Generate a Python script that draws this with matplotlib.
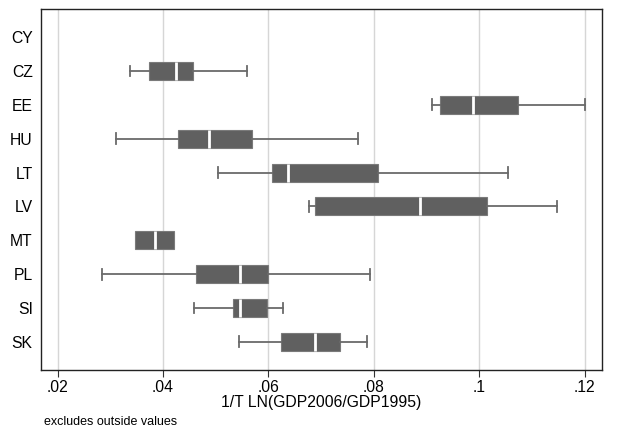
import matplotlib
matplotlib.use("Agg")
import matplotlib.pyplot as plt

plt.rcParams['font.family'] = ['Liberation Sans', 'DejaVu Sans']

countries = ["CY", "CZ", "EE", "HU", "LT", "LV", "MT", "PL", "SI", "SK"]
whisker_lo = [None, 0.0337, 0.0911, 0.0311, 0.0505, 0.0677, 0.0347, 0.0284, 0.0459, 0.0545]
q1         = [None, 0.0373, 0.0926, 0.0428, 0.0607, 0.0688, 0.0347, 0.0463, 0.0533, 0.0624]
median     = [None, 0.0424, 0.0987, 0.0488, 0.0638, 0.0888, 0.0384, 0.0547, 0.0547, 0.0689]
q3         = [None, 0.0457, 0.1074, 0.0568, 0.0808, 0.1015, 0.0420, 0.0600, 0.0597, 0.0736]
whisker_hi = [None, 0.0559, 0.1201, 0.0770, 0.1054, 0.1147, 0.0420, 0.0792, 0.0627, 0.0787]
xticks = [0.02, 0.04, 0.06, 0.08, 0.10, 0.12]
xtick_labels = [".02", ".04", ".06", ".08", ".1", ".12"]

fig = plt.figure(figsize=(6.19, 4.32), dpi=100)
ax = fig.add_axes([41 / 619, 1 - 370 / 432, (601.7 - 41) / 619, (370 - 9) / 432])

stats, positions = [], []
for i, c in enumerate(countries):
    if median[i] is None:
        continue
    stats.append(dict(whislo=whisker_lo[i], q1=q1[i], med=median[i],
                      q3=q3[i], whishi=whisker_hi[i], fliers=[]))
    positions.append(i + 1)

box_col = "#606060"
art = ax.bxp(stats, positions=positions, orientation="horizontal",
             widths=0.53, patch_artist=True, showfliers=False,
             boxprops=dict(facecolor=box_col, edgecolor="#7a7a7a", linewidth=0.8),
             medianprops=dict(color="white", linewidth=2),
             whiskerprops=dict(color="#6a6a6a", linewidth=1.3),
             capprops=dict(color="#6a6a6a", linewidth=1.3),
             capwidths=0.32)

# hide whiskers and caps that collapse onto the box edges
for i, s in enumerate(stats):
    if s["whislo"] >= s["q1"]:
        art["whiskers"][2 * i].set_visible(False)
        art["caps"][2 * i].set_visible(False)
    if s["whishi"] <= s["q3"]:
        art["whiskers"][2 * i + 1].set_visible(False)
        art["caps"][2 * i + 1].set_visible(False)

fs = 11.3
ax.set_ylim(10.83, 0.17)
ax.set_yticks(range(1, len(countries) + 1))
ax.set_yticklabels(countries, fontsize=fs)
ax.tick_params(axis="y", length=0, pad=6)

ax.set_xlim(0.01687, 0.1232)
ax.set_xticks(xticks)
ax.set_xticklabels(xtick_labels, fontsize=fs)
ax.tick_params(axis="x", length=5, width=0.8, color="#333333", pad=2)
ax.xaxis.grid(True, color="#d6d6d6", linewidth=1)
ax.set_axisbelow(True)
ax.set_xlabel("1/T LN(GDP2006/GDP1995)", fontsize=fs, labelpad=0)

for sp in ax.spines.values():
    sp.set_color("#222222")
    sp.set_linewidth(1.0)

fig.text(44 / 619, 1 - 422 / 432, "excludes outside values", fontsize=9,
         va="center", ha="left")

fig.savefig("out.png", dpi=100)
